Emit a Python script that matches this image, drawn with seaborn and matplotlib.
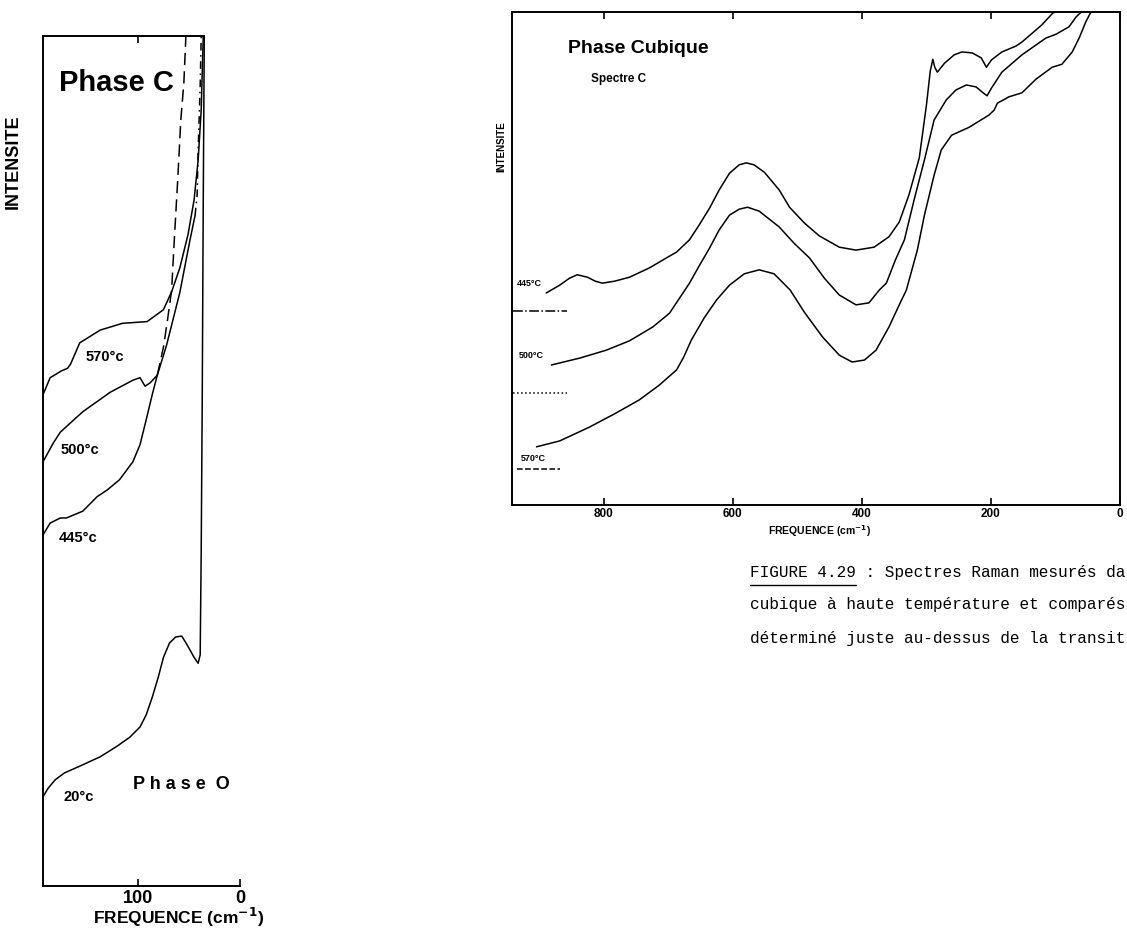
import matplotlib
matplotlib.use("Agg")
import matplotlib.pyplot as plt
import seaborn as sns
from matplotlib.lines import Line2D

# ---- left panel (phase C / phase O), frequency in cm-1, intensity in arbitrary units
f_20 = [193, 188, 181, 172, 157, 137, 121, 108, 98, 92, 86, 80, 75, 69, 63, 57, 51, 45, 41,
        39, 38, 37, 36, 35]
i_20 = [10.5, 11.5, 12.5, 13.3, 14.1, 15.2, 16.4, 17.5, 18.7, 20.1, 22.2, 24.6, 26.9, 28.6,
        29.3, 29.4, 28.2, 26.9, 26.2, 27.2, 39.5, 57.2, 80.7, 100]

f_570 = [193, 186, 175, 169, 166, 157, 137, 115, 91, 75, 67, 59, 51, 45, 41, 38, 36]
i_570 = [57.8, 59.8, 60.6, 60.9, 61.4, 63.9, 65.4, 66.2, 66.4, 67.8, 69.9, 72.7, 76.6,
         80.7, 85.4, 91.3, 100]

f_500 = [193, 183, 176, 154, 127, 105, 98, 93, 88, 81]
i_500 = [49.9, 52.1, 53.4, 55.8, 58.1, 59.5, 59.8, 58.8, 59.2, 60.1]
f_500_tail = [81, 75, 71, 67, 64, 61, 58, 55, 53]
i_500_tail = [60.1, 63.4, 66.6, 70.1, 76.8, 83.1, 90.1, 94.5, 100]

f_445 = [193, 186, 176, 170, 154, 140, 130, 118, 105, 98, 92, 86, 81, 72, 59, 49, 44]
i_445 = [41.3, 42.7, 43.3, 43.3, 44.1, 45.8, 46.6, 47.8, 49.9, 51.9, 54.8, 57.8, 60.1,
         63.6, 69.8, 76.0, 78.9]
f_445_tail = [44, 42, 41, 39, 38]
i_445_tail = [78.9, 81.3, 86.6, 94.2, 100]

# ---- right panel (phase cubique, spectre C)
fc_445 = [889, 868, 853, 841, 825, 813, 802, 783, 760, 729, 703, 687, 667, 652, 636, 621,
          605, 590, 579, 567, 551, 528, 512, 489, 466, 435, 409, 381, 358, 342, 327, 311,
          300, 294, 290, 287, 283, 272, 257, 245, 229, 215, 207, 199, 183, 161, 152, 136,
          121, 104, 99]
ic_445 = [43.0, 44.6, 46.0, 46.7, 46.2, 45.4, 45.0, 45.4, 46.2, 48.1, 50.1, 51.3, 53.8,
          56.8, 60.2, 63.9, 67.3, 69.0, 69.4, 69.0, 67.5, 63.9, 60.4, 57.2, 54.6, 52.3,
          51.7, 52.3, 54.4, 57.4, 62.9, 70.4, 81.0, 88.0, 90.4, 88.8, 87.8, 89.6, 91.3,
          91.9, 91.7, 90.7, 88.8, 90.3, 91.9, 93.1, 93.9, 95.7, 97.4, 99.8, 100]

fc_500 = [881, 837, 796, 760, 724, 698, 667, 652, 636, 621, 605, 590, 577, 559, 528, 505,
          481, 458, 435, 409, 389, 373, 362, 348, 334, 319, 303, 288, 269, 254, 238, 223,
          212, 206, 199, 183, 152, 115, 99, 79, 68, 60]
ic_500 = [28.4, 29.8, 31.4, 33.3, 36.1, 38.9, 45.0, 48.5, 52.1, 55.8, 58.8, 60.0, 60.4,
          59.6, 56.4, 53.1, 50.1, 46.0, 42.6, 40.6, 41.0, 43.6, 45.0, 49.7, 53.8, 61.9,
          70.0, 78.1, 82.2, 84.2, 85.2, 84.8, 83.6, 83.0, 84.6, 87.8, 91.3, 94.7, 95.5,
          97.0, 99.0, 100]

fc_570 = [904, 868, 822, 783, 745, 714, 687, 676, 664, 644, 625, 605, 582, 559, 536, 511,
          489, 461, 435, 415, 396, 378, 358, 342, 331, 314, 303, 288, 277, 261, 234, 203,
          195, 190, 172, 152, 130, 105, 90, 74, 63, 53, 45]
ic_570 = [11.8, 13.0, 15.8, 18.5, 21.3, 24.3, 27.4, 30.0, 33.5, 38.0, 41.6, 44.6, 46.9,
          47.7, 46.9, 43.6, 39.1, 34.1, 30.4, 29.0, 29.4, 31.4, 36.1, 40.6, 43.6, 51.7,
          58.8, 66.9, 72.0, 75.0, 76.6, 79.1, 80.1, 81.5, 82.8, 83.6, 86.4, 88.8, 89.4,
          91.9, 94.8, 98.0, 100]

# baseline markers drawn at the left edge of the right panel
base_levels = [39.4, 22.7, 7.3]
base_x = [[940, 857], [940, 857], [935, 868]]
base_styles = ["-.", ":", "--"]

sns.set_theme(style="white")
plt.rcParams["font.family"] = ["Liberation Sans", "DejaVu Sans"]

W, H = 1127, 931
fig = plt.figure(figsize=(W / 100, H / 100), dpi=100)


def px_ax(x0, y0, x1, y1):
    return fig.add_axes([x0 / W, 1 - y1 / H, (x1 - x0) / W, (y1 - y0) / H])


def style_axes(ax, size, pad):
    ax.set_facecolor("white")
    for s in ax.spines.values():
        s.set_color("black")
        s.set_linewidth(1.4)
    ax.tick_params(axis="x", direction="in", top=True, bottom=True, length=5, width=1.2,
                   labelsize=size, pad=pad, colors="black")
    ax.set_yticks([])
    ax.set_xlabel("")
    ax.set_ylabel("")
    for lab in ax.get_xticklabels():
        lab.set_fontweight("bold")


line_kw = dict(color="black", linewidth=1.1, sort=False, estimator=None)

# ------------------------------------------------------------ left panel
axl = px_ax(43, 36, 240, 886)
sns.lineplot(x=f_20, y=i_20, ax=axl, **line_kw)
sns.lineplot(x=f_570, y=i_570, ax=axl, **line_kw)
sns.lineplot(x=f_500, y=i_500, ax=axl, **line_kw)
sns.lineplot(x=f_500_tail, y=i_500_tail, ax=axl, linestyle=(0, (8, 4)), **line_kw)
sns.lineplot(x=f_445, y=i_445, ax=axl, **line_kw)
sns.lineplot(x=f_445_tail, y=i_445_tail, ax=axl, linestyle=(0, (5, 3, 1, 3)), **line_kw)
axl.set_xlim(193, 0)
axl.set_ylim(0, 100)
axl.set_xticks([100, 0])
axl.set_xticklabels(["100", "0"])
style_axes(axl, 13, 3)
axl.spines["right"].set_visible(False)
axl.spines["top"].set_bounds(193, 35)
axl.xaxis.get_major_ticks()[1].tick2line.set_visible(False)

bold = dict(fontweight="bold", color="black")
axl.text(121, 94.5, "Phase C", fontsize=21, ha="center", va="center", **bold)
axl.text(132, 62.2, "570°c", fontsize=10.5, ha="center", va="center", **bold)
axl.text(157, 51.3, "500°c", fontsize=10.5, ha="center", va="center", **bold)
axl.text(159, 40.9, "445°c", fontsize=10.5, ha="center", va="center", **bold)
axl.text(158, 10.5, "20°c", fontsize=10.5, ha="center", va="center", **bold)
axl.text(57, 11.9, "P h a s e  O", fontsize=13, ha="center", va="center", **bold)
fig.text(13 / W, 1 - 162 / H, "INTENSITE", rotation=90, fontsize=13, ha="center",
         va="center", **bold)
fig.text(179 / W, 1 - 917 / H, "FREQUENCE (cm$^{\\mathbf{-1}}$)", fontsize=12.5,
         ha="center", va="center", **bold)

# ------------------------------------------------------------ right panel
axr = px_ax(512, 12, 1120, 505)
sns.lineplot(x=fc_445, y=ic_445, ax=axr, **line_kw)
sns.lineplot(x=fc_500, y=ic_500, ax=axr, **line_kw)
sns.lineplot(x=fc_570, y=ic_570, ax=axr, **line_kw)
for lvl, xs, ls in zip(base_levels, base_x, base_styles):
    sns.lineplot(x=xs, y=[lvl, lvl], ax=axr, linestyle=ls, **line_kw)
axr.set_xlim(942, 0)
axr.set_ylim(0, 100)
axr.set_xticks([800, 600, 400, 200, 0])
axr.set_xticklabels(["800", "600", "400", "200", "0"])
style_axes(axr, 8.5, 2.5)

axr.text(856, 92.5, "Phase Cubique", fontsize=14, ha="left", va="center", **bold)
axr.text(819, 86.4, "Spectre C", fontsize=8.5, ha="left", va="center", **bold)
axr.text(935, 45.0, "445°C", fontsize=6.5, ha="left", va="center", **bold)
axr.text(932, 30.4, "500°C", fontsize=6.5, ha="left", va="center", **bold)
axr.text(929, 9.5, "570°C", fontsize=6.5, ha="left", va="center", **bold)
fig.text(501 / W, 1 - 147 / H, "INTENSITE", rotation=90, fontsize=7, ha="center",
         va="center", **bold)
fig.text(819 / W, 1 - 531 / H, "FREQUENCE (cm$^{\\mathbf{-1}}$)", fontsize=7.5,
         ha="center", va="center", **bold)

# ------------------------------------------------------------ caption
cap = ["FIGURE 4.29 : Spectres Raman mesurés da",
       "cubique à haute température et comparés",
       "déterminé juste au-dessus de la transit"]
for k, line in enumerate(cap):
    fig.text(750 / W, 1 - (572 + 33 * k) / H, line, fontsize=11.6,
             family=["Liberation Mono", "DejaVu Sans Mono"], ha="left", va="center",
             color="black")
fig.add_artist(Line2D([750 / W, 856 / W], [1 - 585 / H, 1 - 585 / H], color="black",
                      linewidth=1.0, transform=fig.transFigure))

fig.savefig("out.png", dpi=100, facecolor="white")
